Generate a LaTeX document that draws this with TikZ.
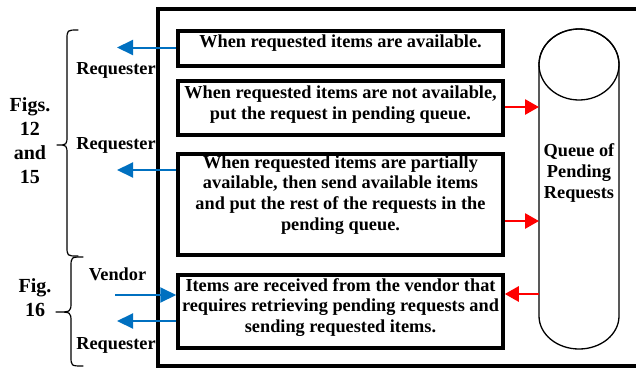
\documentclass[tikz,border=0pt]{standalone}
\usepackage{fontspec}
\setmainfont{Liberation Serif}
\usetikzlibrary{arrows.meta}
\definecolor{linkblue}{RGB}{0,112,192}
\begin{document}
\begin{tikzpicture}[x=1pt,y=1pt,
  stepbox/.style={draw, line width=3.5pt, inner sep=0pt, minimum width=325pt},
  boxtext/.style={font=\fontsize{18.3pt}{20.7pt}\selectfont\bfseries, align=center, inner sep=0pt},
  sidetext/.style={font=\fontsize{18.3pt}{20.7pt}\selectfont\bfseries, inner sep=0pt, anchor=base},
  figtext/.style={font=\fontsize{20pt}{24pt}\selectfont\bfseries, align=center, inner sep=0pt},
  bluearrow/.style={color=linkblue, line width=2pt, -{Triangle[length=16pt,width=15pt]}},
  redarrow/.style={color=red, line width=2.7pt, -{Triangle[length=14pt,width=15pt]}},
  bracepath/.style={line width=1.2pt, line cap=round, line join=round},
]
\useasboundingbox (0,0) rectangle (636,368);

% outer frame (open to the right)
\draw[line width=3.5pt] (645,359) -- (158,359) -- (158,2) -- (645,2);

% process boxes
\node[stepbox, minimum height=35pt]  (b1) at (340.5,319.5) {};
\node[stepbox, minimum height=54pt]  (b2) at (340.5,260) {};
\node[stepbox, minimum height=101pt] (b3) at (340.5,163.5) {};
\node[stepbox, minimum height=73pt]  (b4) at (340.5,56.5) {};

\node[boxtext] (t1) at (340.5,324.5) {When requested items are available.};
\node[boxtext] (t2) at (340.5,263.5) {When requested items are not available,\\put the request in pending queue.};
\node[boxtext] (t3) at (340.5,173) {When requested items are partially\\available, then send available items\\and put the rest of the requests in the\\pending queue.};
\node[boxtext] (t4) at (340.5,60.5) {Items are received from the vendor that\\requires retrieving pending requests and\\sending requested items.};

% queue cylinder
\draw[line width=1.3pt] (539,303.5) -- (539,52)
  arc[start angle=180, end angle=360, x radius=40, y radius=33]
  -- (619,303.5)
  arc[start angle=0, end angle=180, x radius=40, y radius=35.5];
\draw[line width=1.3pt] (579,303.5) ellipse [x radius=40, y radius=35.5];
\node[boxtext, minimum width=80pt, outer sep=0pt] (q) at (579,195) {Queue of\\Pending\\Requests};

% queue connectors
\draw[redarrow] (b2.east |- 0,261) -- (q.west |- 0,261);
\draw[redarrow] (b3.east |- 0,147) -- (q.west |- 0,147);
\draw[redarrow] (q.west |- 0,74) -- (b4.east |- 0,74);

% requester / vendor connectors
\coordinate (r1) at (117,320.5);
\coordinate (r2) at (117,198);
\coordinate (v)  at (115,73);
\coordinate (r3) at (117,47);
\draw[bluearrow] (b1.west |- r1) -- (r1);
\draw[bluearrow] (b3.west |- r2) -- (r2);
\draw[bluearrow] (v) -- (b4.west |- v);
\draw[bluearrow] (b4.west |- r3) -- (r3);

\node[sidetext] (lr1) at (116,294) {Requester};
\node[sidetext] (lr2) at (116,219) {Requester};
\node[sidetext] (lv)  at (117.5,88) {Vendor};
\node[sidetext] (lr3) at (116,19) {Requester};

% figure references with braces
\node[figtext] (f1) at (30,227) {Figs.\\12\\and\\15};
\node[figtext] (f2) at (35,70.75) {Fig.\\16};

\draw[bracepath] (78,338) .. controls (67,338) .. (67,328) -- (67,233)
  .. controls (67,223) .. (57,223) .. controls (67,223) .. (67,213)
  -- (67,122) .. controls (67,112) .. (78,112);
\draw[bracepath] (83,111) .. controls (71,111) .. (71,101) -- (71,66)
  .. controls (71,56) .. (56,56) .. controls (71,56) .. (71,46)
  -- (71,12) .. controls (71,2) .. (83,2);
\end{tikzpicture}
\end{document}
